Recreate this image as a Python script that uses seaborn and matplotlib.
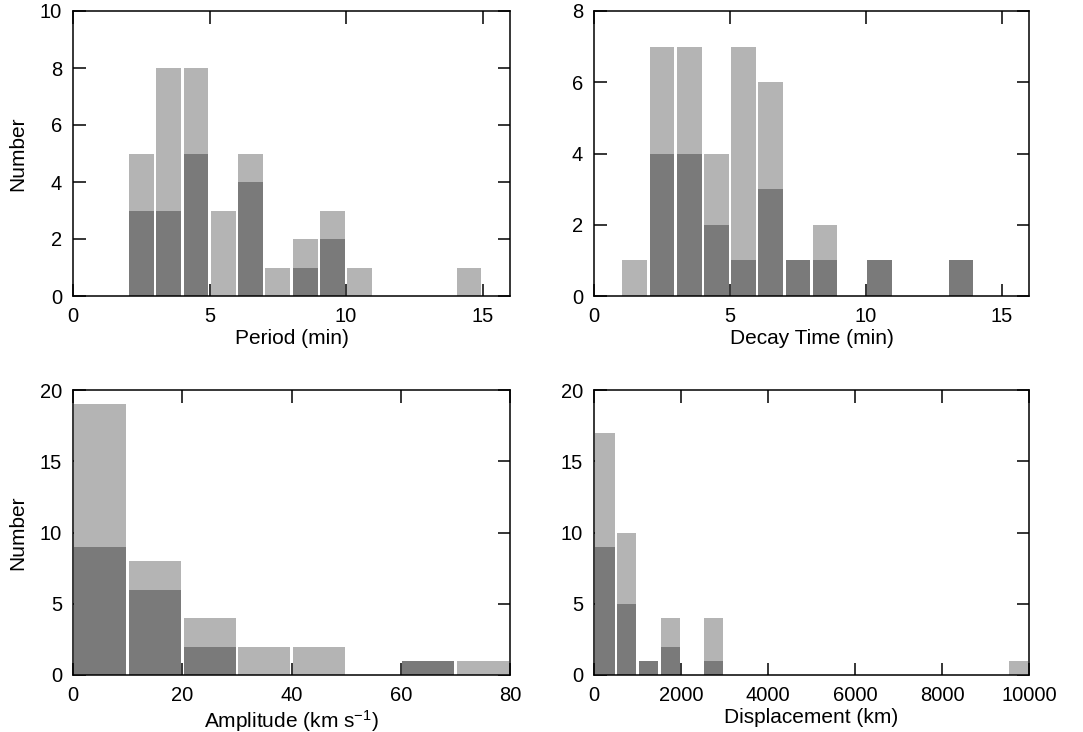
import numpy as np
import pandas as pd
import matplotlib
matplotlib.use("Agg")
import matplotlib.pyplot as plt
import seaborn as sns

# histogram counts: all events (light) and subset (dark)
period_edges = list(range(0, 17, 1))
period_all = [0, 0, 5, 8, 8, 3, 5, 1, 2, 3, 1, 0, 0, 0, 1, 0]
period_sub = [0, 0, 3, 3, 5, 0, 4, 0, 1, 2, 0, 0, 0, 0, 0, 0]

decay_edges = list(range(0, 17, 1))
decay_all = [0, 1, 7, 7, 4, 7, 6, 1, 2, 0, 1, 0, 0, 1, 0, 0]
decay_sub = [0, 0, 4, 4, 2, 1, 3, 1, 1, 0, 1, 0, 0, 1, 0, 0]

amp_edges = list(range(0, 90, 10))
amp_all = [19, 8, 4, 2, 2, 0, 1, 1]
amp_sub = [9, 6, 2, 0, 0, 0, 1, 0]

disp_edges = list(range(0, 10500, 500))
disp_all = [17, 10, 1, 4, 0, 4, 0, 0, 0, 0, 0, 0, 0, 0, 0, 0, 0, 0, 0, 1]
disp_sub = [9, 5, 1, 2, 0, 1, 0, 0, 0, 0, 0, 0, 0, 0, 0, 0, 0, 0, 0, 0]

sns.set_style("ticks")
plt.rcParams['font.family'] = ['Liberation Sans', 'DejaVu Sans']
plt.rcParams['mathtext.default'] = 'regular'
plt.rcParams['xtick.direction'] = 'in'
plt.rcParams['ytick.direction'] = 'in'
plt.rcParams['text.color'] = 'black'
plt.rcParams['axes.labelcolor'] = 'black'

light = '#b4b4b4'
dark = '#7a7a7a'
gap_px = 2.5  # white gap between neighbouring bars

fig = plt.figure(figsize=(10.83, 7.32), dpi=100)
W, H = 1083, 732
boxes = [(73, 11, 510, 296), (594, 11, 1029, 296),
         (73, 390, 510, 675), (594, 390, 1029, 675)]
panels = [
    (period_edges, period_all, period_sub, 'Period (min)', (0, 16), (0, 10), [0, 5, 10, 15], [0, 2, 4, 6, 8, 10]),
    (decay_edges, decay_all, decay_sub, 'Decay Time (min)', (0, 16), (0, 8), [0, 5, 10, 15], [0, 2, 4, 6, 8]),
    (amp_edges, amp_all, amp_sub, 'Amplitude (km s$^{-1}$)', (0, 80), (0, 20), [0, 20, 40, 60, 80], [0, 5, 10, 15, 20]),
    (disp_edges, disp_all, disp_sub, 'Displacement (km)', (0, 10000), (0, 20), [0, 2000, 4000, 6000, 8000, 10000], [0, 5, 10, 15, 20]),
]

for i, (box, p) in enumerate(zip(boxes, panels)):
    x0, y0, x1, y1 = box
    ax = fig.add_axes([x0 / W, 1 - y1 / H, (x1 - x0) / W, (y1 - y0) / H])
    edges, c_all, c_sub, xlab, xl, yl, xt, yt = p
    width = edges[1] - edges[0]
    bin_px = width / (xl[1] - xl[0]) * (x1 - x0)
    shrink = 1 - gap_px / bin_px
    centers = [e + width / 2 for e in edges[:-1]]
    df = pd.DataFrame({'x': centers, 'all': c_all, 'sub': c_sub})
    for col, colr in (('all', light), ('sub', dark)):
        sns.histplot(data=df, x='x', weights=col, binwidth=width,
                     binrange=(edges[0], edges[-1]), color=colr, alpha=1,
                     shrink=shrink, linewidth=0, ax=ax)
    ax.set_xlim(*xl)
    ax.set_ylim(*yl)
    ax.set_xticks(xt)
    ax.set_yticks(yt)
    ax.set_axisbelow(True)
    ax.tick_params(top=True, right=True, length=9, width=1.1, color='black',
                   labelsize=14.5, pad=8, labelcolor='black')
    for s in ax.spines.values():
        s.set_linewidth(1.1)
        s.set_color('black')
    ax.set_xlabel(xlab, fontsize=15, labelpad=2)
    if i % 2 == 0:
        ax.set_ylabel('Number', fontsize=15)
        ax.yaxis.set_label_coords(-0.105, 0.5)
    else:
        ax.set_ylabel('')

fig.savefig('out.png', dpi=100)
